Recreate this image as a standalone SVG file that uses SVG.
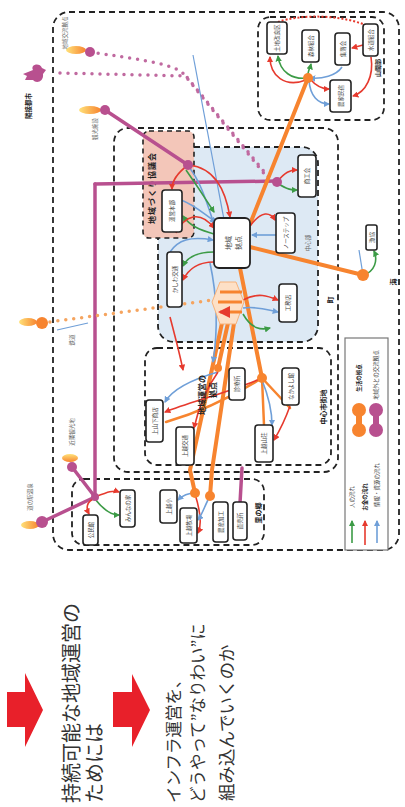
<svg xmlns="http://www.w3.org/2000/svg" width="405" height="807" viewBox="0 0 405 807">
<style>
.dash{fill:none;stroke:#222;stroke-width:1.8;stroke-dasharray:6 4}
.node rect{fill:#fff;stroke:#222;stroke-width:1.6}
.nt{font-family:"Noto Sans CJK JP","Noto Sans",sans-serif;font-size:5.5px;fill:#444;text-anchor:middle;dominant-baseline:central}
.lb{font-family:"Noto Sans CJK JP","Noto Sans",sans-serif;font-size:7px;font-weight:bold;fill:#222;text-anchor:middle;dominant-baseline:central}
.gl{font-family:"Noto Sans CJK JP","Noto Sans",sans-serif;font-size:5.5px;fill:#666;text-anchor:middle;dominant-baseline:central}
.big{font-family:"Noto Sans CJK JP","Noto Sans",sans-serif;fill:#333;dominant-baseline:central}
.or{fill:none;stroke:#f7842f;stroke-width:4;stroke-linecap:round}
.mg{fill:none;stroke:#b8508f;stroke-width:3.5;stroke-linecap:round}
.mgd{fill:none;stroke:#c06aa0;stroke-width:3.5;stroke-linecap:round;stroke-dasharray:0 8}
.ord{fill:none;stroke:#f5a45f;stroke-width:3.5;stroke-linecap:round;stroke-dasharray:0 8}
.r{fill:none;stroke:#e63a2e;stroke-width:1.6;marker-end:url(#ar)}
.g{fill:none;stroke:#3c9b46;stroke-width:1.6;marker-end:url(#ag)}
.b{fill:none;stroke:#6f9fd8;stroke-width:1.6;marker-end:url(#ab)}
.bl{fill:none;stroke:#6f9fd8;stroke-width:1.2}
</style>
<defs>
<marker id="ar" viewBox="0 0 6 6" refX="5" refY="3" markerWidth="4" markerHeight="4" orient="auto"><path d="M0,0L6,3L0,6z" fill="#e63a2e"/></marker>
<marker id="ag" viewBox="0 0 6 6" refX="5" refY="3" markerWidth="4" markerHeight="4" orient="auto"><path d="M0,0L6,3L0,6z" fill="#3c9b46"/></marker>
<marker id="ab" viewBox="0 0 6 6" refX="5" refY="3" markerWidth="4" markerHeight="4" orient="auto"><path d="M0,0L6,3L0,6z" fill="#6f9fd8"/></marker>
<linearGradient id="fl" x1="0" y1="0" x2="1" y2="0"><stop offset="0" stop-color="#ffe27a"/><stop offset="1" stop-color="#f7842f"/></linearGradient>
</defs>
<rect width="405" height="807" fill="#fff"/>

<!-- regions -->
<g id="regions">
<rect class="dash" x="53" y="12" width="346" height="538" rx="16"/>
<rect class="dash" x="258" y="17" width="126" height="103" rx="12"/>
<rect class="dash" x="114" y="128" width="224" height="344" rx="14"/>
<rect x="158" y="147" width="160" height="195" rx="16" fill="#dde9f4" stroke="#222" stroke-width="1.8" stroke-dasharray="6 4"/>
<rect x="143" y="131" width="51" height="107" rx="6" fill="#f3c6b9" stroke="#222" stroke-width="1.6" stroke-dasharray="5 4"/>
<rect class="dash" x="145" y="348" width="186" height="117" rx="12"/>
<rect class="dash" x="72" y="479" width="192" height="66" rx="12"/>
<text class="lb" transform="translate(151,188) rotate(-90)" style="font-size:8px;letter-spacing:1px">地域づくり協議会</text>
<text class="lb" transform="translate(323,407) rotate(-90)">中心市街地</text>
<text class="lb" transform="translate(258,513) rotate(-90)">里の郷</text>
<text class="lb" transform="translate(330,300) rotate(-90)">町</text>
<text class="lb" transform="translate(393,282) rotate(-90)">海</text>
<text class="lb" transform="translate(377,68) rotate(-90)" style="font-size:6px">山間部</text>
<text class="gl" transform="translate(308,243) rotate(-90)">中心部</text>
</g>

<!-- connectors -->
<g id="connectors">
<path class="mgd" d="M90,52 C130,58 165,62 182,72 L266,176"/>
<path class="mgd" d="M60,73 L186,76 L271,180"/>
<path class="bl" d="M193,55 L232,262"/>
<path class="mg" d="M95,184 L277,181"/>
<path class="mg" d="M95,184 L95,497"/>
<path class="mg" d="M42,522 L95,497"/>
<path class="mg" d="M72,467 L95,497"/>
<path class="mg" d="M105,110 L188,165"/>
<path class="mg" d="M240,503 L242,468"/>
<path class="or" d="M308,78 L250,224"/>
<path class="or" d="M250,247 L363,275"/>
<path class="ord" d="M42,323 L213,300"/>
<path class="or" d="M222,323 L190,470 L195,493"/>
<path class="or" d="M234,323 L212,470 L210,496"/>
<path class="or" d="M240,268 L262,378"/>
<path class="or" d="M228,323 L218,368"/>
<path class="or" d="M262,378 L290,408" style="stroke-width:2.5"/>
<path class="or" d="M262,378 L264,425" style="stroke-width:2.5"/>
<path class="or" d="M262,378 C235,395 200,412 166,422" style="stroke-width:2.5"/>
<!-- top right -->
<path class="g" d="M308,78 C292,80 280,72 278,56"/>
<path class="g" d="M308,78 C307,72 310,68 311,64"/>
<path class="r" d="M306,80 C285,88 270,76 270,57"/>
<path class="b" d="M342,67 C336,76 322,79 310,78"/>
<path class="r" d="M363,45 L352,48"/>
<path class="r" d="M371,57 C374,76 366,92 353,96"/>
<path class="b" d="M309,80 C310,96 318,104 329,104"/>
<path class="r" d="M310,79 C316,86 322,89 329,89"/>
<path d="M278,22 C300,14 345,14 372,28" fill="none" stroke="#e63a2e" stroke-width="2" stroke-dasharray="2 2"/>
<circle cx="372" cy="28" r="3" fill="#e63a2e"/>
<!-- center -->
<path class="r" d="M188,165 C176,174 172,182 172,189"/>
<path class="b" d="M188,166 C200,180 206,200 214,224"/>
<path class="g" d="M214,234 C200,230 190,226 183,216"/>
<path class="r" d="M189,165 C214,168 225,188 230,217"/>
<path class="b" d="M181,200 C195,205 205,215 216,222"/>
<path class="g" d="M186,170 C200,190 205,198 214,212"/>
<path class="r" d="M176,233 C185,215 200,210 214,228"/>
<path class="b" d="M170,252 C178,240 190,236 213,240"/>
<path class="g" d="M214,252 C196,252 187,258 183,266"/>
<path class="r" d="M214,262 C196,262 188,270 183,280"/>
<path class="r" d="M277,182 C285,172 290,170 297,170"/>
<path class="g" d="M277,183 C288,190 292,190 297,190"/>
<path class="b" d="M276,235 L252,235"/>
<path class="r" d="M250,226 C262,210 270,212 275,220"/>
<path class="r" d="M243,300 C258,292 268,296 278,300"/>
<path class="b" d="M243,308 C258,306 268,310 278,312"/>
<path class="g" d="M243,314 C252,330 262,330 270,328"/>
<path class="r" d="M170,317 C176,340 180,355 183,370"/>
<path class="b" d="M210,263 C218,300 218,330 213,362"/>
<path class="g" d="M363,275 C375,272 378,260 374,251"/>
<path class="bl" d="M363,275 L359,250"/>
<!-- central district -->
<path class="r" d="M262,378 C230,392 190,402 165,412"/>
<path class="b" d="M218,372 C190,380 172,390 165,402"/>
<path class="r" d="M290,406 C285,420 280,430 274,440"/>
<path class="b" d="M262,380 C270,400 272,412 272,425"/>
<path class="r" d="M218,372 C205,390 198,410 194,428"/>
<!-- lower left -->
<path class="r" d="M95,497 C108,492 113,490 119,492"/>
<path class="g" d="M95,499 C105,512 112,515 119,515"/>
<path class="r" d="M95,498 C86,502 86,508 89,514"/>
<path class="b" d="M195,493 C188,493 182,496 178,500"/>
<path class="r" d="M195,494 C200,510 202,525 198,533"/>
<path class="b" d="M210,496 C205,505 202,515 198,520"/>
<path class="bl" d="M57,330 L88,323"/>
</g>

<!-- hubs and dots -->
<g id="hubs">
<ellipse cx="76" cy="50" rx="10" ry="4" fill="url(#fl)"/>
<circle cx="90" cy="52" r="5" fill="#b8508f"/>
<ellipse cx="90" cy="110" rx="11" ry="4" fill="url(#fl)"/>
<circle cx="105" cy="110" r="5" fill="#b8508f"/>
<circle cx="188" cy="165" r="5" fill="#b8508f"/>
<circle cx="277" cy="182" r="5" fill="#b8508f"/>
<circle cx="95" cy="497" r="4" fill="#b8508f"/>
<ellipse cx="70" cy="458" rx="4" ry="8" fill="url(#fl)" transform="rotate(90 70 458)"/>
<circle cx="72" cy="467" r="5" fill="#b8508f"/>
<ellipse cx="30" cy="525" rx="9" ry="4" fill="url(#fl)"/>
<circle cx="42" cy="522" r="6" fill="#b8508f"/>
<ellipse cx="28" cy="322" rx="9" ry="4" fill="url(#fl)"/>
<circle cx="42" cy="323" r="6" fill="#f7842f"/>
<circle cx="308" cy="78" r="5" fill="#f7842f"/>
<circle cx="363" cy="275" r="6" fill="#f7842f"/>
<circle cx="262" cy="378" r="5" fill="#f7842f"/>
<circle cx="218" cy="368" r="4" fill="#f7842f"/>
<circle cx="195" cy="493" r="5" fill="#f7842f"/>
<circle cx="210" cy="496" r="5" fill="#f7842f"/>
<path d="M33,70 C30,64 40,62 42,68 L46,70 L43,74 C44,82 36,84 33,80 L25,80 L27,76 L23,74 z" fill="#b8508f"/>
<g id="hex">
<path d="M220,282 L236,282 L244,302 L236,324 L220,324 L212,302 z" fill="#fde0c6" stroke="#f7b27a" stroke-width="1"/>
<path d="M242,292 L220,292 M242,302 L218,302 M242,312 L220,312" stroke="#f7842f" stroke-width="3" marker-end="url(#ar)"/>
</g>
</g>

<!-- outside labels -->
<g id="outside">
<text class="lb" transform="translate(28,106) rotate(-90)" style="font-size:6.5px">隣接都市</text>
<text class="gl" transform="translate(65,33) rotate(-90)">地域交流拠点</text>
<text class="gl" transform="translate(95,129) rotate(-90)">観光施設</text>
<text class="gl" transform="translate(72,340) rotate(-90)">鉄道</text>
<text class="gl" transform="translate(72,432) rotate(-90)">近隣観光地</text>
<text class="gl" transform="translate(30,497) rotate(-90)">道の駅温泉</text>
</g>

<!-- nodes -->
<g id="n1" class="node"><rect x="267" y="22" width="20" height="32" rx="3"/><text class="nt" transform="translate(277,38) rotate(-90)">土地改良区</text></g>
<g id="n2" class="node"><rect x="302" y="30" width="17" height="32" rx="3"/><text class="nt" transform="translate(310.5,46) rotate(-90)">森林組合</text></g>
<g id="n3" class="node"><rect x="335" y="33" width="15" height="32" rx="3"/><text class="nt" transform="translate(342.5,49) rotate(-90)">集落会</text></g>
<g id="n4" class="node"><rect x="363" y="24" width="15" height="32" rx="3"/><text class="nt" transform="translate(370.5,40) rotate(-90)">水道組合</text></g>
<g id="n5" class="node"><rect x="330" y="80" width="21" height="32" rx="3"/><text class="nt" transform="translate(340.5,96) rotate(-90)">農家民宿</text></g>
<g id="nL1" class="node"><rect x="162" y="190" width="20" height="42" rx="3"/><text class="nt" transform="translate(172,211) rotate(-90)">運営本部</text></g>
<g id="nL2" class="node"><rect x="167" y="252" width="15" height="55" rx="3"/><text class="nt" transform="translate(174.5,279.5) rotate(-90)">かしわ交通</text></g>
<g id="nC" class="node"><rect x="214" y="218" width="36" height="50" rx="5" style="stroke-width:1.8"/><text class="nt" transform="translate(228,243) rotate(-90)" style="font-size:7px">地域</text><text class="nt" transform="translate(238,243) rotate(-90)" style="font-size:7px">拠点</text></g>
<g id="nR1" class="node"><rect x="298" y="155" width="18" height="42" rx="3"/><text class="nt" transform="translate(307,176) rotate(-90)">商工会</text></g>
<g id="nR2" class="node"><rect x="276" y="213" width="19" height="40" rx="3"/><text class="nt" transform="translate(285.5,233) rotate(-90)">ノーステップ</text></g>
<g id="nR3" class="node"><rect x="279" y="284" width="18" height="38" rx="3"/><text class="nt" transform="translate(288,303) rotate(-90)">工務店</text></g>
<g id="nX" class="node"><rect x="366" y="225" width="11" height="25" rx="2"/><text class="nt" transform="translate(371.5,237.5) rotate(-90)">漁協</text></g>
<g id="m1" class="node"><rect x="146" y="400" width="17" height="42" rx="3"/><text class="nt" transform="translate(154.5,421) rotate(-90)">上山下商店</text></g>
<g id="m2" class="node"><rect x="176" y="427" width="18" height="38" rx="3"/><text class="nt" transform="translate(185,446) rotate(-90)">上越交通</text></g>
<g id="mlab"><text class="lb" transform="translate(201,395) rotate(-90)" style="font-size:8px">地域運営の</text><text class="lb" transform="translate(212,390) rotate(-90)" style="font-size:8px">拠点</text></g>
<g id="m4" class="node"><rect x="229" y="368" width="16" height="32" rx="3"/><text class="nt" transform="translate(237,384) rotate(-90)">診療所</text></g>
<g id="m5" class="node"><rect x="282" y="368" width="17" height="37" rx="3"/><text class="nt" transform="translate(290.5,386.5) rotate(-90)">なかよし館</text></g>
<g id="m6" class="node"><rect x="255" y="425" width="18" height="37" rx="3"/><text class="nt" transform="translate(264,443.5) rotate(-90)">上越山荘</text></g>
<g id="b1" class="node"><rect x="83" y="515" width="15" height="30" rx="3"/><text class="nt" transform="translate(90.5,530) rotate(-90)">公民館</text></g>
<g id="b2" class="node"><rect x="120" y="490" width="15" height="37" rx="3"/><text class="nt" transform="translate(127.5,508.5) rotate(-90)">みんなの家</text></g>
<g id="b3" class="node"><rect x="160" y="490" width="17" height="33" rx="3"/><text class="nt" transform="translate(168.5,506.5) rotate(-90)">上越小</text></g>
<g id="b4" class="node"><rect x="180" y="508" width="17" height="35" rx="3"/><text class="nt" transform="translate(188.5,525.5) rotate(-90)">上越牧場</text></g>
<g id="b5" class="node"><rect x="213" y="502" width="15" height="40" rx="3"/><text class="nt" transform="translate(220.5,522) rotate(-90)">農産加工</text></g>
<g id="b6" class="node"><rect x="233" y="502" width="14" height="38" rx="3"/><text class="nt" transform="translate(240,521) rotate(-90)">直売所</text></g>

<!-- legend -->
<g id="legend">
<rect x="345" y="338" width="43" height="212" fill="#fff" stroke="#777" stroke-width="1.2"/>
<text class="lb" transform="translate(359,378) rotate(-90)" style="font-size:5.5px">生活の拠点</text>
<text class="gl" transform="translate(376,375) rotate(-90)" style="fill:#444">地域外との交流拠点</text>
<rect x="356" y="410" width="6" height="20" fill="#f7842f"/>
<circle cx="359" cy="410" r="7" fill="#f7842f"/>
<circle cx="359" cy="430" r="7" fill="#f7842f"/>
<rect x="373" y="410" width="6" height="20" fill="#b8508f"/>
<circle cx="376" cy="410" r="7" fill="#b8508f"/>
<circle cx="376" cy="430" r="7" fill="#b8508f"/>
<text class="gl" transform="translate(352,497) rotate(-90)" style="fill:#444">人の流れ</text>
<text class="lb" transform="translate(365,497) rotate(-90)" style="font-size:5.5px">お金の流れ</text>
<text class="gl" transform="translate(377,485) rotate(-90)" style="fill:#444">情報・資源の流れ</text>
<path class="g" d="M352,543 L352,521"/>
<path class="r" d="M365,545 L365,521"/>
<path class="b" d="M377,543 L377,521"/>
</g>

<!-- bottom message -->
<g id="message">
<path d="M7,692 L25,692 L25,673 L43,710 L25,747 L25,727 L7,727 z" fill="#e8202a"/>
<path d="M113,692 L132,692 L132,674 L150,710 L132,747 L132,727 L113,727 z" fill="#e8202a"/>
<text class="big" transform="translate(70,803) rotate(-90)" style="font-size:20px">持続可能な地域運営の</text>
<text class="big" transform="translate(93,803) rotate(-90)" style="font-size:20px">ためには</text>
<text class="big" transform="translate(173,803) rotate(-90)" style="font-size:16.5px">インフラ運営を、</text>
<text class="big" transform="translate(197,803) rotate(-90)" style="font-size:16.5px">どうやって”なりわい”に</text>
<text class="big" transform="translate(225,801) rotate(-90)" style="font-size:17.5px">組み込んでいくのか</text>
</g>
</svg>
